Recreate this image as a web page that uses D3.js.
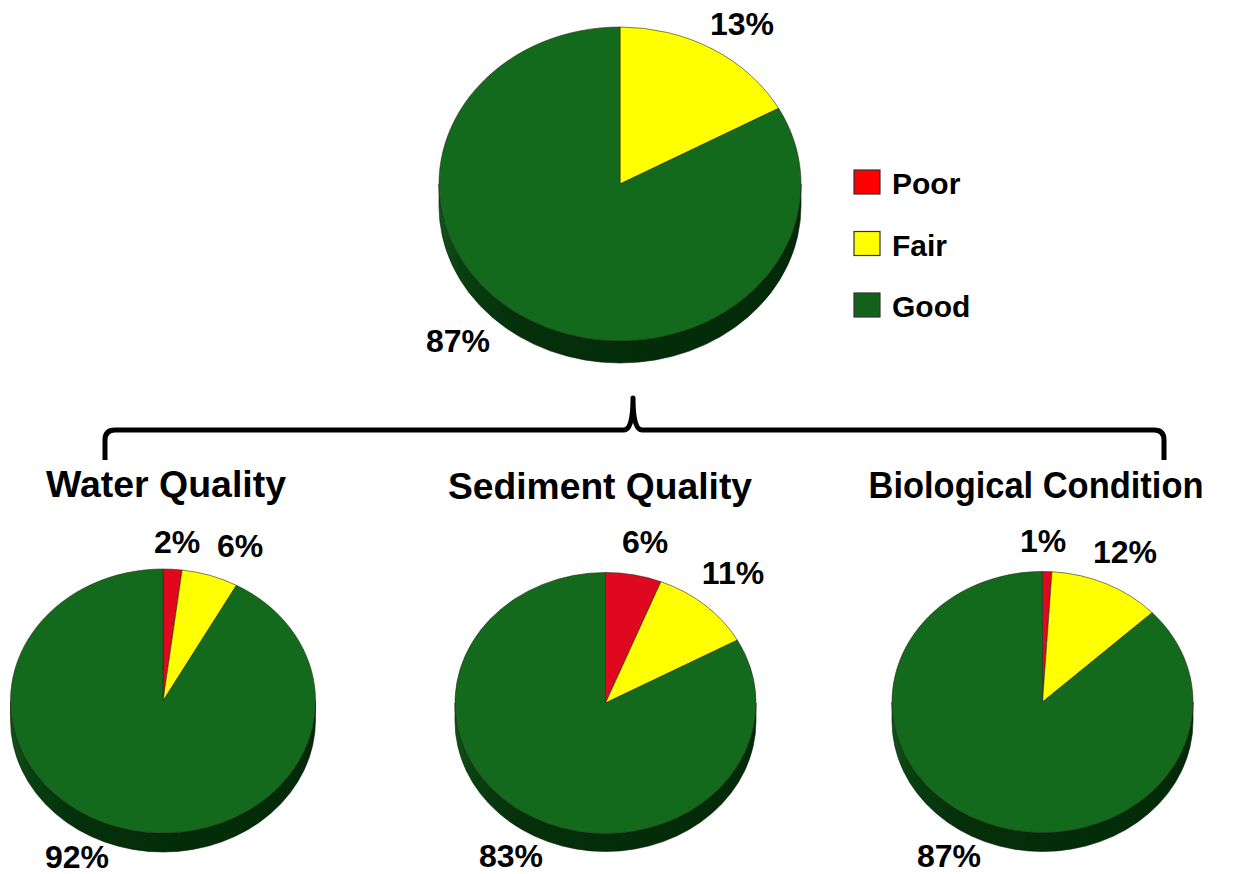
<!DOCTYPE html>
<html>
<head>
<meta charset="utf-8">
<script src="https://cdn.jsdelivr.net/npm/d3@7"></script>
<style>
  html, body { margin: 0; padding: 0; background: #ffffff; }
  svg { display: block; }
  text { font-family: "Liberation Sans", Arial, Helvetica, sans-serif; font-weight: bold; fill: #000; }
</style>
</head>
<body>
<svg id="chart" width="1234" height="874"></svg>
<script>
// ---------------- DATA ----------------
const categories = ["Poor", "Fair", "Good"];
// overall condition: slice sizes as drawn in the reference, with its printed labels
const overallValues = [0, 17, 83];
const overallLabels = ["", "13%", "87%"];
const waterValues = [2, 6, 92];
const sedimentValues = [6, 11, 83];
const biologicalValues = [1, 12, 87];
const subTitles = ["Water Quality", "Sediment Quality", "Biological Condition"];

// ---------------- STYLE / LAYOUT ----------------
const topColor = d3.scaleOrdinal().domain(categories).range(["#e0081f", "#ffff00", "#136a1d"]);
const sideColor = d3.scaleOrdinal().domain(categories).range(["#6e0010", "#7a7a00", "#03290a"]);
const legendColor = d3.scaleOrdinal().domain(categories).range(["#ff0000", "#ffff00", "#12621c"]);

const layout = {
  main: { cx: 620, cy: 184, rx: 181, ry: 157, depth: 22,
          labels: [null, [742, 35], [458, 352]] },
  subs: [
    { cx: 163, cy: 701, rx: 152.5, ry: 132, depth: 19, title: [166, 497], titleW: 240,
      labels: [[177, 553], [240, 557], [77, 868]] },
    { cx: 605.5, cy: 703, rx: 150.5, ry: 130.5, depth: 18, title: [600, 499], titleW: 304,
      labels: [[645, 553], [733, 584], [511, 867]] },
    { cx: 1042.5, cy: 702, rx: 150.5, ry: 130.5, depth: 19, title: [1036, 498], titleW: 335,
      labels: [[1043, 552], [1125, 563], [949, 867]] }
  ],
  legend: { x: 854, y: 170, w: 26, h: 24, step: 61.5, textX: 892, font: 30 },
  labelFont: 32,
  titleFont: 36
};

const svg = d3.select("#chart");
const defs = svg.append("defs");
const grad = defs.append("linearGradient").attr("id", "sideGrad")
  .attr("x1", "0%").attr("x2", "100%").attr("y1", "0%").attr("y2", "0%");
[["0%", "#0f5516"], ["6%", "#084010"], ["22%", "#04300a"], ["100%", "#032a08"]]
  .forEach(([o, c]) => grad.append("stop").attr("offset", o).attr("stop-color", c));

const pieGen = d3.pie().sort(null).value(d => d).startAngle(0).endAngle(2 * Math.PI);

function draw3DPie(values, labels, cfg) {
  const g = svg.append("g");
  const arcs = pieGen(values).map((a, i) => Object.assign(a, { cat: categories[i], label: labels[i] }));
  const P = (a, dy = 0) => [cfg.cx + cfg.rx * Math.sin(a), cfg.cy - cfg.ry * Math.cos(a) + dy];
  const d = cfg.depth;

  // side walls (visible front half only)
  const sides = arcs.map(a => {
    const s = Math.max(a.startAngle, Math.PI / 2), e = Math.min(a.endAngle, 3 * Math.PI / 2);
    return { a, s, e };
  }).filter(o => o.e > o.s && o.a.value > 0);
  g.selectAll("path.side").data(sides).join("path")
    .attr("class", "side")
    .attr("d", o => {
      const p0 = P(o.s), p1 = P(o.e), q1 = P(o.e, d), q0 = P(o.s, d);
      return `M${p0}A${cfg.rx},${cfg.ry} 0 0 1 ${p1}L${q1}A${cfg.rx},${cfg.ry} 0 0 0 ${q0}Z`;
    })
    .attr("fill", o => o.a.cat === "Good" ? "url(#sideGrad)" : sideColor(o.a.cat))
    .attr("stroke", "#021a05").attr("stroke-width", 0.6);

  // top faces
  g.selectAll("path.top").data(arcs.filter(a => a.value > 0)).join("path")
    .attr("class", "top")
    .attr("d", a => {
      const p0 = P(a.startAngle), p1 = P(a.endAngle);
      const large = (a.endAngle - a.startAngle) > Math.PI ? 1 : 0;
      return `M${cfg.cx},${cfg.cy}L${p0}A${cfg.rx},${cfg.ry} 0 ${large} 1 ${p1}Z`;
    })
    .attr("fill", a => topColor(a.cat))
    .attr("stroke", "#2a2a1a").attr("stroke-width", 0.6).attr("stroke-linejoin", "round");

  // labels
  g.selectAll("text.lbl").data(arcs.filter((a, i) => a.label && cfg.labels[i]).map(a => ({ a, pos: cfg.labels[a.index] })))
    .join("text")
    .attr("class", "lbl")
    .attr("x", o => o.pos[0]).attr("y", o => o.pos[1])
    .attr("text-anchor", "middle")
    .attr("font-size", layout.labelFont)
    .text(o => o.a.label);
  return g;
}

// main pie
draw3DPie(overallValues, overallLabels, layout.main);

// sub pies
[waterValues, sedimentValues, biologicalValues].forEach((vals, i) => {
  const cfg = layout.subs[i];
  draw3DPie(vals, vals.map(v => v + "%"), cfg);
  svg.append("text")
    .attr("x", cfg.title[0]).attr("y", cfg.title[1])
    .attr("text-anchor", "middle")
    .attr("font-size", layout.titleFont)
    .attr("textLength", cfg.titleW)
    .attr("lengthAdjust", "spacingAndGlyphs")
    .text(subTitles[i]);
});

// legend
const L = layout.legend;
const lg = svg.append("g");
lg.selectAll("rect").data(categories).join("rect")
  .attr("x", L.x).attr("y", (d, i) => L.y + i * L.step)
  .attr("width", L.w).attr("height", L.h)
  .attr("fill", d => legendColor(d))
  .attr("stroke", "#333").attr("stroke-width", 1.2);
lg.selectAll("text").data(categories).join("text")
  .attr("x", L.textX).attr("y", (d, i) => L.y + i * L.step + L.h)
  .attr("font-size", L.font)
  .text(d => d);

// brace connecting overall pie to the three components
const bx0 = 105, bx1 = 1164, bm = 633, by = 430;
const bp = d3.path();
bp.moveTo(bx0, 460);
bp.lineTo(bx0, by + 10);
bp.quadraticCurveTo(bx0, by, bx0 + 10, by);
bp.lineTo(bm - 9, by);
bp.quadraticCurveTo(bm, by, bm, by - 32);
bp.quadraticCurveTo(bm, by, bm + 9, by);
bp.lineTo(bx1 - 10, by);
bp.quadraticCurveTo(bx1, by, bx1, by + 10);
bp.lineTo(bx1, 460);
svg.append("path").attr("d", bp.toString())
  .attr("fill", "none").attr("stroke", "#000").attr("stroke-width", 5)
  .attr("stroke-linejoin", "round");
</script>
</body>
</html>
